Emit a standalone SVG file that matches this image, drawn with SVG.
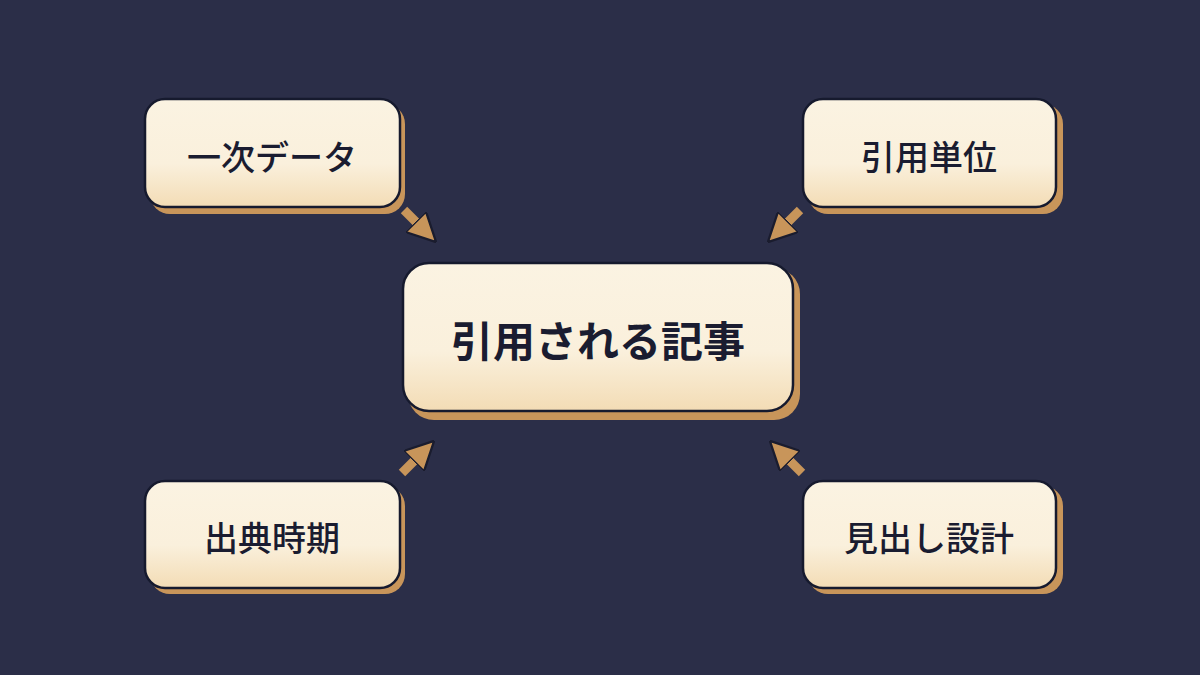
<svg xmlns="http://www.w3.org/2000/svg" width="1200" height="675" viewBox="0 0 1200 675">
<defs>
<linearGradient id="g" x1="0" y1="0" x2="0" y2="1"><stop offset="0" stop-color="#fbf3e2"/><stop offset="0.6" stop-color="#faf0dc"/><stop offset="1" stop-color="#f3dcb5"/></linearGradient>
<marker id="ah" viewBox="0 0 10 10" refX="6" refY="5" markerWidth="3.2" markerHeight="3.2" orient="auto" markerUnits="strokeWidth"><path d="M0,0 L10,5 L0,10 z" fill="#c8955a" stroke="#1a1c2e" stroke-width="0.8"/></marker>
</defs>
<style>
.sh{fill:#c8955a}
.bx{fill:url(#g);stroke:#161a2e;stroke-width:2.5}
.t{font-family:"Noto Sans CJK JP",sans-serif;fill:#1a1c30;text-anchor:middle;dominant-baseline:central}
.ar{stroke:#c8955a;stroke-width:9;fill:none;marker-end:url(#ah)}
</style>
<rect width="1200" height="675" fill="#2b2e48"/>
<g id="connectors">
<line class="ar" x1="404" y1="210" x2="428" y2="234"/>
<line class="ar" x1="800" y1="210" x2="776" y2="234"/>
<line class="ar" x1="402" y1="473" x2="426" y2="449"/>
<line class="ar" x1="802" y1="473" x2="778" y2="449"/>
</g>
<g id="n1"><rect class="sh" x="150" y="104" width="255" height="110" rx="20"/><rect class="bx" x="145" y="99" width="255" height="108" rx="20"/><text class="t" x="272" y="155" font-size="34" font-weight="500">一次データ</text></g>
<g id="n2"><rect class="sh" x="808" y="104" width="255" height="110" rx="20"/><rect class="bx" x="803" y="99" width="253" height="108" rx="20"/><text class="t" x="929" y="155" font-size="34" font-weight="500">引用単位</text></g>
<g id="n0"><rect class="sh" x="408" y="268" width="392" height="152" rx="26"/><rect class="bx" x="403" y="263" width="390" height="148" rx="26"/><text class="t" x="598" y="338" font-size="42" font-weight="700">引用される記事</text></g>
<g id="n3"><rect class="sh" x="150" y="486" width="255" height="108" rx="20"/><rect class="bx" x="145" y="481" width="255" height="107" rx="20"/><text class="t" x="272" y="536" font-size="34" font-weight="500">出典時期</text></g>
<g id="n4"><rect class="sh" x="808" y="486" width="255" height="108" rx="20"/><rect class="bx" x="803" y="481" width="253" height="107" rx="20"/><text class="t" x="929" y="536" font-size="34" font-weight="500">見出し設計</text></g>
</svg>
